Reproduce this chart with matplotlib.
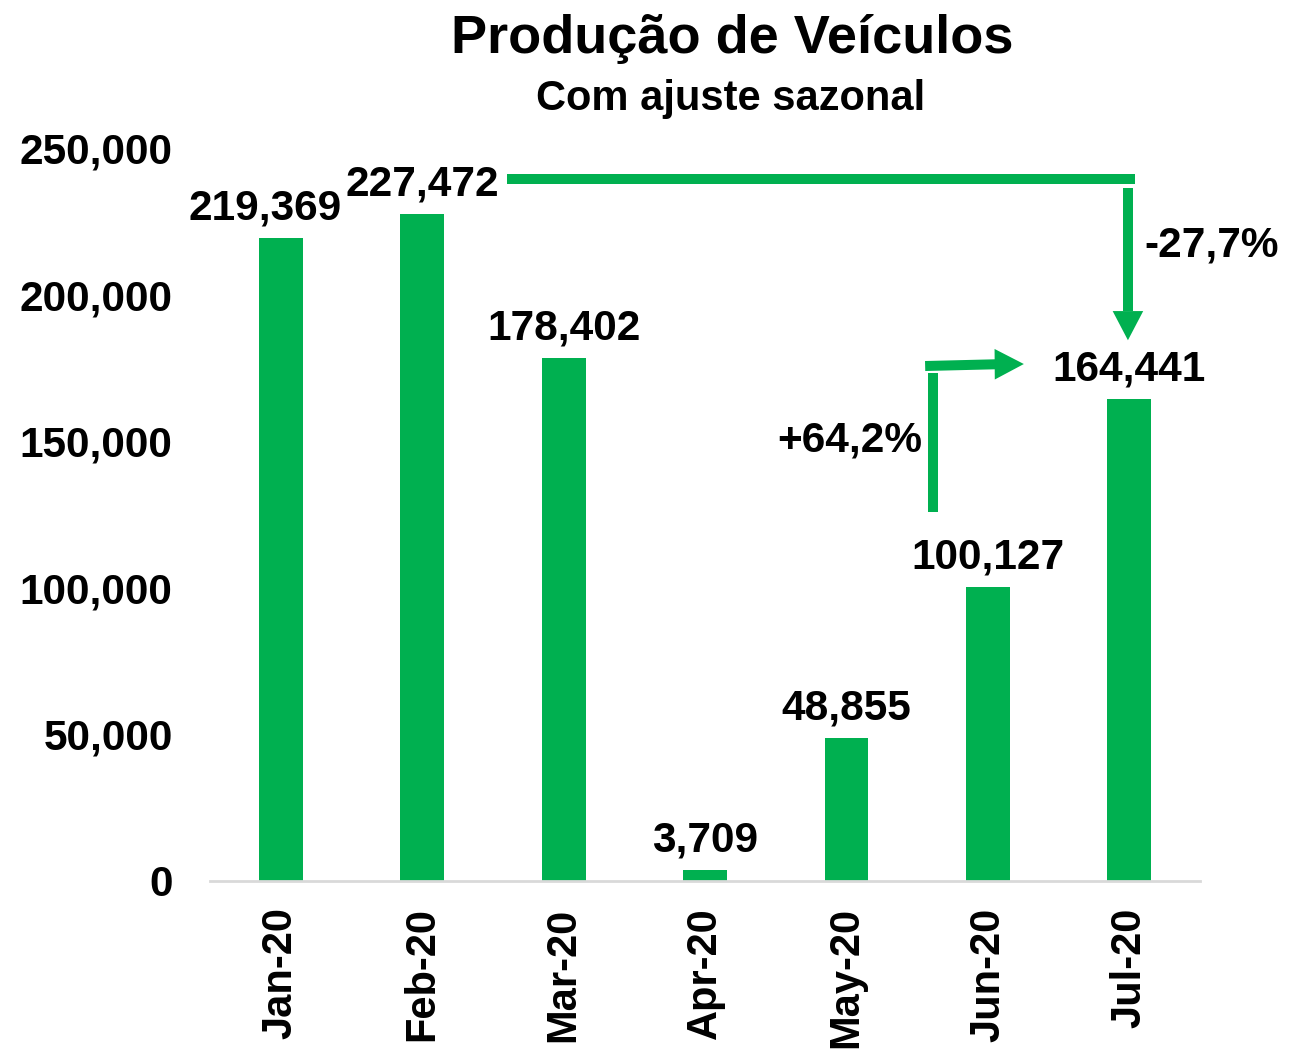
import matplotlib.pyplot as plt

# data
months = ["Jan-20", "Feb-20", "Mar-20", "Apr-20", "May-20", "Jun-20", "Jul-20"]
production = [219369, 227472, 178402, 3709, 48855, 100127, 164441]
change_feb_jul = "-27,7%"
change_jun_jul = "+64,2%"

green = "#00B050"
plt.rcParams['font.family'] = ['Liberation Sans', 'DejaVu Sans']
plt.rcParams['font.weight'] = 'bold'

fig = plt.figure(figsize=(12.89, 10.5), dpi=100)
ax = fig.add_axes([0.163, 0.161, 0.768, 0.698])

x = list(range(len(months)))
ax.bar(x, production, width=0.31, color=green)
ax.set_xlim(-0.5, len(months) - 0.5)
ax.set_ylim(0, 250000)

# value labels (Jan label nudged left like in the original, so it clears Feb's)
for i, v in enumerate(production):
    dx = -11 if i == 0 else 0
    ax.annotate(f"{v:,}", (i, v), xytext=(dx, 7), textcoords="offset points",
                ha="center", va="bottom", fontsize=30.5, fontweight="bold")

# axes styling
ax.set_yticks(range(0, 250001, 50000))
ax.set_yticklabels([f"{t:,}" for t in range(0, 250001, 50000)])
ax.set_xticks(x)
ax.set_xticklabels(months, rotation=90)
ax.tick_params(axis='y', length=0, pad=27, labelsize=30.5)
ax.tick_params(axis='x', length=0, pad=19, labelsize=30)
for s in ["top", "right", "left"]:
    ax.spines[s].set_visible(False)
ax.spines["bottom"].set_color("#D9D9D9")
ax.spines["bottom"].set_linewidth(2)

# titles
fig.text(0.568, 0.963, "Produção de Veículos", ha="center", va="center", fontsize=39, fontweight="bold")
fig.text(0.567, 0.906, "Com ajuste sazonal", ha="center", va="center", fontsize=30, fontweight="bold")

# Feb -> Jul arrow
feb, jul, jun = production[1], production[6], production[5]
y_top = feb + 12000
ax.plot([1.6, 6.04], [y_top, y_top], color=green, lw=7.2, solid_capstyle="butt", clip_on=False)
ax.plot([5.99, 5.99], [236300, jul + 30000], color=green, lw=7.2, solid_capstyle="butt", clip_on=False)
ax.annotate("", xy=(5.99, jul + 20000), xytext=(5.99, jul + 30500),
            arrowprops=dict(arrowstyle="-|>,head_length=0.42,head_width=0.22", mutation_scale=50,
                            color=green, lw=0, shrinkA=0, shrinkB=0), annotation_clip=False)
ax.text(6.106, 216900, change_feb_jul, ha="left", va="center", fontsize=30.5, fontweight="bold")

# Jun -> Jul arrow
ax.plot([4.61, 4.61], [jun + 25700, 173300], color=green, lw=7.2, solid_capstyle="butt", clip_on=False)
ax.plot([4.556, 5.06], [175650, 176250], color=green, lw=7.2, solid_capstyle="butt", clip_on=False)
ax.annotate("", xy=(5.254, 176330), xytext=(5.03, 176250),
            arrowprops=dict(arrowstyle="-|>,head_length=0.42,head_width=0.22", mutation_scale=50,
                            color=green, lw=0, shrinkA=0, shrinkB=0), annotation_clip=False)
ax.text(4.535, 150400, change_jun_jul, ha="right", va="center", fontsize=30.5, fontweight="bold")

fig.savefig("out.png", dpi=100)
